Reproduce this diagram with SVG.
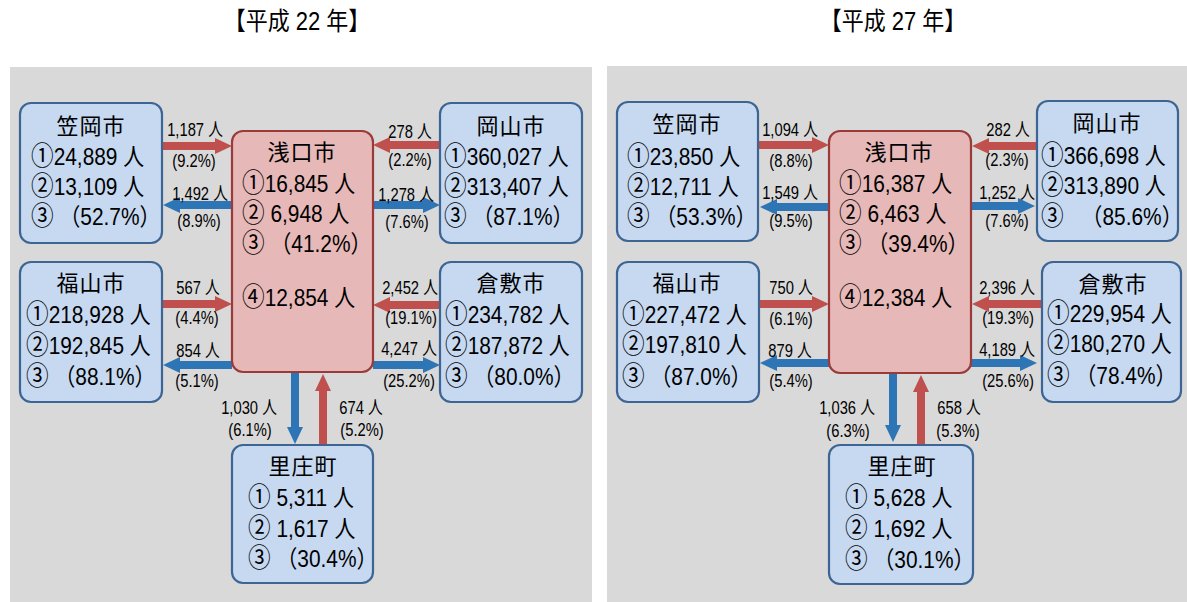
<svg xmlns="http://www.w3.org/2000/svg" width="1187" height="602" viewBox="0 0 1187 602">
<style>
.bg{fill:#d9d9d9}
.bx{fill:#c6d9f1;stroke:#3d6594;stroke-width:2.2}
.cx{fill:#e6b8b7;stroke:#9b3b39;stroke-width:2.2}
.red{fill:#c0504d}
.blue{fill:#2e75b6}
text{font-family:"Liberation Sans","Noto Sans CJK JP",sans-serif;fill:#000}
.hd{font-size:25px;text-anchor:middle}
.tt{font-size:22px;text-anchor:middle;letter-spacing:1px}
.nt{font-size:24px}
.c{font-size:26px}
.lb{font-size:18px;text-anchor:middle}
</style>
<rect width="1187" height="602" fill="#ffffff"/>
<text class="hd" transform="translate(297,30) scale(0.88,1)">【平成 22 年】</text>
<text class="hd" transform="translate(893,30) scale(0.88,1)">【平成 27 年】</text>

<g id="panel-h22">
<rect class="bg" x="10" y="67" width="582" height="535"/>
<g id="connectors-h22">
<path class="red" d="M162,142 H215 V138 L232,146 L215,154 V150 H162Z"/>
<path class="blue" d="M232,201 H180 V197 L163,205 L180,213 V209 H232Z"/>
<path class="red" d="M440,141 H390 V137 L373,145 L390,153 V149 H440Z"/>
<path class="blue" d="M373,201 H423 V197 L440,205 L423,213 V209 H373Z"/>
<path class="red" d="M162,300 H215 V296 L232,304 L215,312 V308 H162Z"/>
<path class="blue" d="M232,361 H180 V357 L163,365 L180,373 V369 H232Z"/>
<path class="red" d="M440,301 H390 V297 L373,305 L390,313 V309 H440Z"/>
<path class="blue" d="M373,361 H423 V357 L440,365 L423,373 V369 H373Z"/>
<path class="blue" d="M291,373 V427 H287 L295,444 L303,427 H299 V373Z"/>
<path class="red" d="M319,445 V391 H315 L323,374 L331,391 H327 V445Z"/>
<text class="lb" transform="translate(195,136) scale(0.82,1)">1,187 人</text>
<text class="lb" transform="translate(194,167) scale(0.82,1)">(9.2%)</text>
<text class="lb" transform="translate(200,200) scale(0.82,1)">1,492 人</text>
<text class="lb" transform="translate(199,227) scale(0.82,1)">(8.9%)</text>
<text class="lb" transform="translate(410,138) scale(0.82,1)">278 人</text>
<text class="lb" transform="translate(410,166) scale(0.82,1)">(2.2%)</text>
<text class="lb" transform="translate(406,201) scale(0.82,1)">1,278 人</text>
<text class="lb" transform="translate(407,228) scale(0.82,1)">(7.6%)</text>
<text class="lb" transform="translate(198,294) scale(0.82,1)">567 人</text>
<text class="lb" transform="translate(197,324) scale(0.82,1)">(4.4%)</text>
<text class="lb" transform="translate(198,357) scale(0.82,1)">854 人</text>
<text class="lb" transform="translate(197,387) scale(0.82,1)">(5.1%)</text>
<text class="lb" transform="translate(410,294) scale(0.82,1)">2,452 人</text>
<text class="lb" transform="translate(411,324) scale(0.82,1)">(19.1%)</text>
<text class="lb" transform="translate(409,355) scale(0.82,1)">4,247 人</text>
<text class="lb" transform="translate(409,387) scale(0.82,1)">(25.2%)</text>
<text class="lb" transform="translate(249,414) scale(0.82,1)">1,030 人</text>
<text class="lb" transform="translate(250,436) scale(0.82,1)">(6.1%)</text>
<text class="lb" transform="translate(361,414) scale(0.82,1)">674 人</text>
<text class="lb" transform="translate(362,436) scale(0.82,1)">(5.2%)</text>
</g>
<g id="h22-kasaoka">
<rect class="bx" x="20" y="103" width="142" height="140" rx="11"/>
<text class="tt" x="91" y="134">笠岡市</text>
<text class="nt" transform="translate(31,165) scale(0.87,1)"><tspan class="c">①</tspan>24,889 人</text>
<text class="nt" transform="translate(31,195) scale(0.87,1)"><tspan class="c">②</tspan>13,109 人</text>
<text class="nt" transform="translate(31,225) scale(0.87,1)"><tspan class="c">③</tspan> （52.7%）</text>
</g>
<g id="h22-asakuchi">
<rect class="cx" x="232" y="131" width="141" height="241" rx="11"/>
<text class="tt" x="302" y="160">浅口市</text>
<text class="nt" transform="translate(242,192) scale(0.87,1)"><tspan class="c">①</tspan>16,845 人</text>
<text class="nt" transform="translate(242,222) scale(0.87,1)"><tspan class="c">②</tspan> 6,948 人</text>
<text class="nt" transform="translate(242,252) scale(0.87,1)"><tspan class="c">③</tspan> （41.2%）</text>
<text class="nt" transform="translate(242,306) scale(0.87,1)"><tspan class="c">④</tspan>12,854 人</text>
</g>
<g id="h22-okayama">
<rect class="bx" x="440" y="103" width="142" height="140" rx="11"/>
<text class="tt" x="511" y="134">岡山市</text>
<text class="nt" transform="translate(444,165) scale(0.87,1)"><tspan class="c">①</tspan>360,027 人</text>
<text class="nt" transform="translate(444,195) scale(0.87,1)"><tspan class="c">②</tspan>313,407 人</text>
<text class="nt" transform="translate(444,225) scale(0.87,1)"><tspan class="c">③</tspan> （87.1%）</text>
</g>
<g id="h22-fukuyama">
<rect class="bx" x="20" y="262" width="142" height="140" rx="11"/>
<text class="tt" x="91" y="291">福山市</text>
<text class="nt" transform="translate(26,323) scale(0.87,1)"><tspan class="c">①</tspan>218,928 人</text>
<text class="nt" transform="translate(26,354) scale(0.87,1)"><tspan class="c">②</tspan>192,845 人</text>
<text class="nt" transform="translate(26,385) scale(0.87,1)"><tspan class="c">③</tspan> （88.1%）</text>
</g>
<g id="h22-kurashiki">
<rect class="bx" x="440" y="262" width="142" height="140" rx="11"/>
<text class="tt" x="511" y="291">倉敷市</text>
<text class="nt" transform="translate(445,323) scale(0.87,1)"><tspan class="c">①</tspan>234,782 人</text>
<text class="nt" transform="translate(445,354) scale(0.87,1)"><tspan class="c">②</tspan>187,872 人</text>
<text class="nt" transform="translate(445,385) scale(0.87,1)"><tspan class="c">③</tspan> （80.0%）</text>
</g>
<g id="h22-satosho">
<rect class="bx" x="232" y="445" width="141" height="138" rx="11"/>
<text class="tt" x="303" y="474">里庄町</text>
<text class="nt" transform="translate(248,506) scale(0.87,1)"><tspan class="c">①</tspan> 5,311 人</text>
<text class="nt" transform="translate(248,537) scale(0.87,1)"><tspan class="c">②</tspan> 1,617 人</text>
<text class="nt" transform="translate(248,567) scale(0.87,1)"><tspan class="c">③</tspan> （30.4%）</text>
</g>
</g>

<g id="panel-h27" transform="translate(597,0)">
<rect class="bg" x="10" y="66" width="590" height="536"/>
<g id="connectors-h27">
<path class="red" d="M161,141 H215 V137 L232,145 L215,153 V149 H161Z"/>
<path class="blue" d="M232,203 H180 V199 L163,207 L180,215 V211 H232Z"/>
<path class="red" d="M440,142 H392 V138 L375,146 L392,154 V150 H440Z"/>
<path class="blue" d="M374,202 H421 V198 L438,206 L421,214 V210 H374Z"/>
<path class="red" d="M162,300 H215 V296 L232,304 L215,312 V308 H162Z"/>
<path class="blue" d="M232,359 H180 V355 L163,363 L180,371 V367 H232Z"/>
<path class="red" d="M445,300 H392 V296 L375,304 L392,312 V308 H445Z"/>
<path class="blue" d="M374,359 H423 V355 L440,363 L423,371 V367 H374Z"/>
<path class="blue" d="M292,373 V425 H288 L296,442 L304,425 H300 V373Z"/>
<path class="red" d="M320,445 V392 H316 L324,375 L332,392 H328 V445Z"/>
<text class="lb" transform="translate(193,136) scale(0.82,1)">1,094 人</text>
<text class="lb" transform="translate(194,167) scale(0.82,1)">(8.8%)</text>
<text class="lb" transform="translate(193,199) scale(0.82,1)">1,549 人</text>
<text class="lb" transform="translate(194,227) scale(0.82,1)">(9.5%)</text>
<text class="lb" transform="translate(411,136) scale(0.82,1)">282 人</text>
<text class="lb" transform="translate(410,166) scale(0.82,1)">(2.3%)</text>
<text class="lb" transform="translate(410,199) scale(0.82,1)">1,252 人</text>
<text class="lb" transform="translate(410,227) scale(0.82,1)">(7.6%)</text>
<text class="lb" transform="translate(194,294) scale(0.82,1)">750 人</text>
<text class="lb" transform="translate(194,325) scale(0.82,1)">(6.1%)</text>
<text class="lb" transform="translate(193,357) scale(0.82,1)">879 人</text>
<text class="lb" transform="translate(194,387) scale(0.82,1)">(5.4%)</text>
<text class="lb" transform="translate(410,294) scale(0.82,1)">2,396 人</text>
<text class="lb" transform="translate(411,324) scale(0.82,1)">(19.3%)</text>
<text class="lb" transform="translate(410,356) scale(0.82,1)">4,189 人</text>
<text class="lb" transform="translate(411,387) scale(0.82,1)">(25.6%)</text>
<text class="lb" transform="translate(250,414) scale(0.82,1)">1,036 人</text>
<text class="lb" transform="translate(251,437) scale(0.82,1)">(6.3%)</text>
<text class="lb" transform="translate(362,414) scale(0.82,1)">658 人</text>
<text class="lb" transform="translate(361,437) scale(0.82,1)">(5.3%)</text>
</g>
<g id="h27-kasaoka">
<rect class="bx" x="20" y="102" width="141" height="139" rx="11"/>
<text class="tt" x="90" y="132">笠岡市</text>
<text class="nt" transform="translate(30,165) scale(0.87,1)"><tspan class="c">①</tspan>23,850 人</text>
<text class="nt" transform="translate(30,195) scale(0.87,1)"><tspan class="c">②</tspan>12,711 人</text>
<text class="nt" transform="translate(30,225) scale(0.87,1)"><tspan class="c">③</tspan> （53.3%）</text>
</g>
<g id="h27-asakuchi">
<rect class="cx" x="232" y="131" width="142" height="242" rx="11"/>
<text class="tt" x="302" y="160">浅口市</text>
<text class="nt" transform="translate(242,192) scale(0.87,1)"><tspan class="c">①</tspan>16,387 人</text>
<text class="nt" transform="translate(242,222) scale(0.87,1)"><tspan class="c">②</tspan> 6,463 人</text>
<text class="nt" transform="translate(242,252) scale(0.87,1)"><tspan class="c">③</tspan> （39.4%）</text>
<text class="nt" transform="translate(242,306) scale(0.87,1)"><tspan class="c">④</tspan>12,384 人</text>
</g>
<g id="h27-okayama">
<rect class="bx" x="440" y="101" width="141" height="140" rx="11"/>
<text class="tt" x="510" y="131">岡山市</text>
<text class="nt" transform="translate(444,164) scale(0.87,1)"><tspan class="c">①</tspan>366,698 人</text>
<text class="nt" transform="translate(444,194) scale(0.87,1)"><tspan class="c">②</tspan>313,890 人</text>
<text class="nt" transform="translate(444,225) scale(0.87,1)"><tspan class="c">③</tspan> <tspan dx="14">（85.6%）</tspan></text>
</g>
<g id="h27-fukuyama">
<rect class="bx" x="20" y="262" width="142" height="140" rx="11"/>
<text class="tt" x="90" y="291">福山市</text>
<text class="nt" transform="translate(25,323) scale(0.87,1)"><tspan class="c">①</tspan>227,472 人</text>
<text class="nt" transform="translate(25,353) scale(0.87,1)"><tspan class="c">②</tspan>197,810 人</text>
<text class="nt" transform="translate(25,385) scale(0.87,1)"><tspan class="c">③</tspan> （87.0%）</text>
</g>
<g id="h27-kurashiki">
<rect class="bx" x="445" y="262" width="139" height="140" rx="11"/>
<text class="tt" x="516" y="292">倉敷市</text>
<text class="nt" transform="translate(450,322) scale(0.87,1)"><tspan class="c">①</tspan>229,954 人</text>
<text class="nt" transform="translate(450,352) scale(0.87,1)"><tspan class="c">②</tspan>180,270 人</text>
<text class="nt" transform="translate(450,384) scale(0.87,1)"><tspan class="c">③</tspan> （78.4%）</text>
</g>
<g id="h27-satosho">
<rect class="bx" x="232" y="445" width="144" height="139" rx="11"/>
<text class="tt" x="305" y="474">里庄町</text>
<text class="nt" transform="translate(248,506) scale(0.87,1)"><tspan class="c">①</tspan> 5,628 人</text>
<text class="nt" transform="translate(248,537) scale(0.87,1)"><tspan class="c">②</tspan> 1,692 人</text>
<text class="nt" transform="translate(248,568) scale(0.87,1)"><tspan class="c">③</tspan> （30.1%）</text>
</g>
</g>
</svg>
